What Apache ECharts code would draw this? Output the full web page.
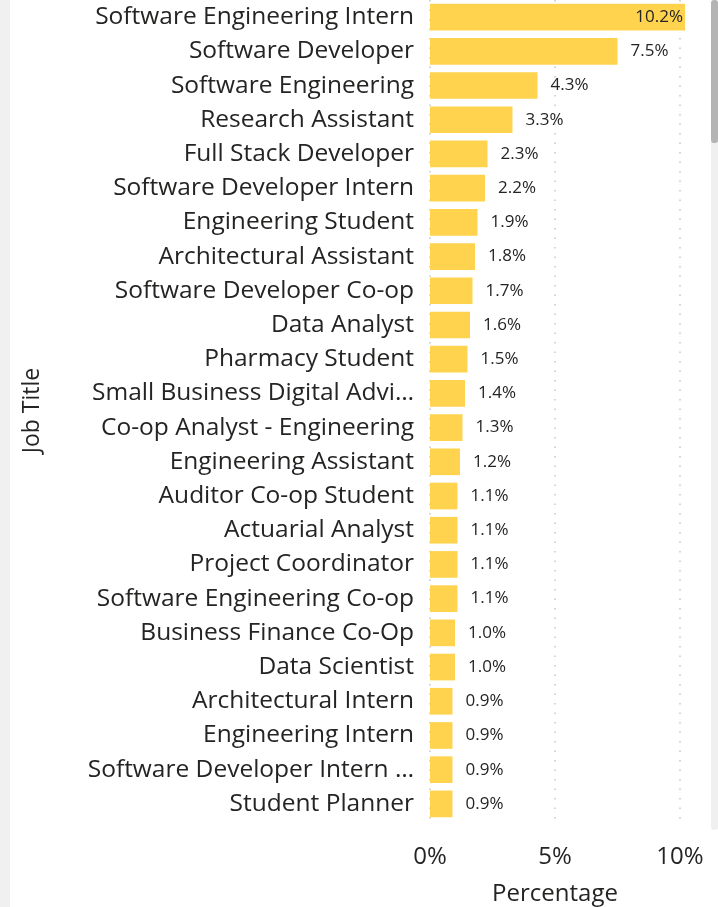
<!DOCTYPE html>
<html>
<head>
<meta charset="utf-8">
<script src="https://cdn.jsdelivr.net/npm/echarts@6/dist/echarts.min.js"></script>
<style>
  html, body { margin: 0; padding: 0; background: #fff; }
  #chart { width: 718px; height: 907px; }
</style>
</head>
<body>
<div id="chart"></div>
<script>
const jobTitles = [
  'Software Engineering Intern', 'Software Developer', 'Software Engineering',
  'Research Assistant', 'Full Stack Developer', 'Software Developer Intern',
  'Engineering Student', 'Architectural Assistant', 'Software Developer Co-op',
  'Data Analyst', 'Pharmacy Student', 'Small Business Digital Advi…',
  'Co-op Analyst - Engineering', 'Engineering Assistant', 'Auditor Co-op Student',
  'Actuarial Analyst', 'Project Coordinator', 'Software Engineering Co-op',
  'Business Finance Co-Op', 'Data Scientist', 'Architectural Intern',
  'Engineering Intern', 'Software Developer Intern …', 'Student Planner'
];
const percentages = [
  10.2, 7.5, 4.3, 3.3, 2.3, 2.2, 1.9, 1.8, 1.7, 1.6, 1.5, 1.4,
  1.3, 1.2, 1.1, 1.1, 1.1, 1.1, 1.0, 1.0, 0.9, 0.9, 0.9, 0.9
];
const xTicks = [0, 5, 10];

const font = 'Open Sans';
const textColor = '#252423';

const chart = echarts.init(document.getElementById('chart'));

chart.setOption({
  backgroundColor: '#fff',
  animation: false,
  grid: {
    left: 430, right: 38, top: 0, height: 821,
    containLabel: false, outerBoundsMode: 'none'
  },
  xAxis: {
    type: 'value',
    min: xTicks[0],
    max: xTicks[xTicks.length - 1],
    interval: 5,
    name: 'Percentage',
    nameLocation: 'middle',
    nameGap: 61,
    nameTextStyle: { fontFamily: font, fontSize: 24, color: textColor },
    axisLine: { show: false },
    axisTick: { show: false },
    axisLabel: {
      fontFamily: font, fontSize: 24, color: textColor, margin: 24,
      formatter: v => v + '%'
    },
    splitLine: {
      show: true,
      lineStyle: { color: '#c8c8c8', type: [1.5, 8], width: 1.5 }
    }
  },
  yAxis: {
    type: 'category',
    inverse: true,
    data: jobTitles,
    name: 'Job Title',
    nameLocation: 'middle',
    nameGap: 386,
    nameRotate: 90,
    nameTextStyle: { fontFamily: font, fontSize: 23, color: textColor },
    axisLine: { show: false },
    axisTick: { show: false },
    axisLabel: { fontFamily: font, fontSize: 24.5, color: textColor, margin: 16 }
  },
  series: [{
    type: 'bar',
    data: percentages.map((v, i) => ({
      value: v,
      label: i === 0
        ? { position: 'insideRight', distance: 2 }
        : { position: 'right', distance: 13 }
    })),
    barCategoryGap: '22%',
    clip: false,
    itemStyle: { color: '#FFD34E' },
    label: {
      show: true,
      fontFamily: font,
      fontSize: 17,
      color: textColor,
      formatter: p => p.value.toFixed(1) + '%'
    }
  }],
  graphic: [
    { type: 'rect', left: 0, top: 0, shape: { width: 10, height: 907 }, style: { fill: '#f0f0f0' }, silent: true },
    { type: 'rect', left: 711, top: 0, shape: { width: 7, height: 830, r: 3 }, style: { fill: '#f0f0f0' }, silent: true },
    { type: 'rect', left: 711, top: 0, shape: { width: 7, height: 143, r: 3 }, style: { fill: '#b4b4b4' }, silent: true }
  ]
});
</script>
</body>
</html>
